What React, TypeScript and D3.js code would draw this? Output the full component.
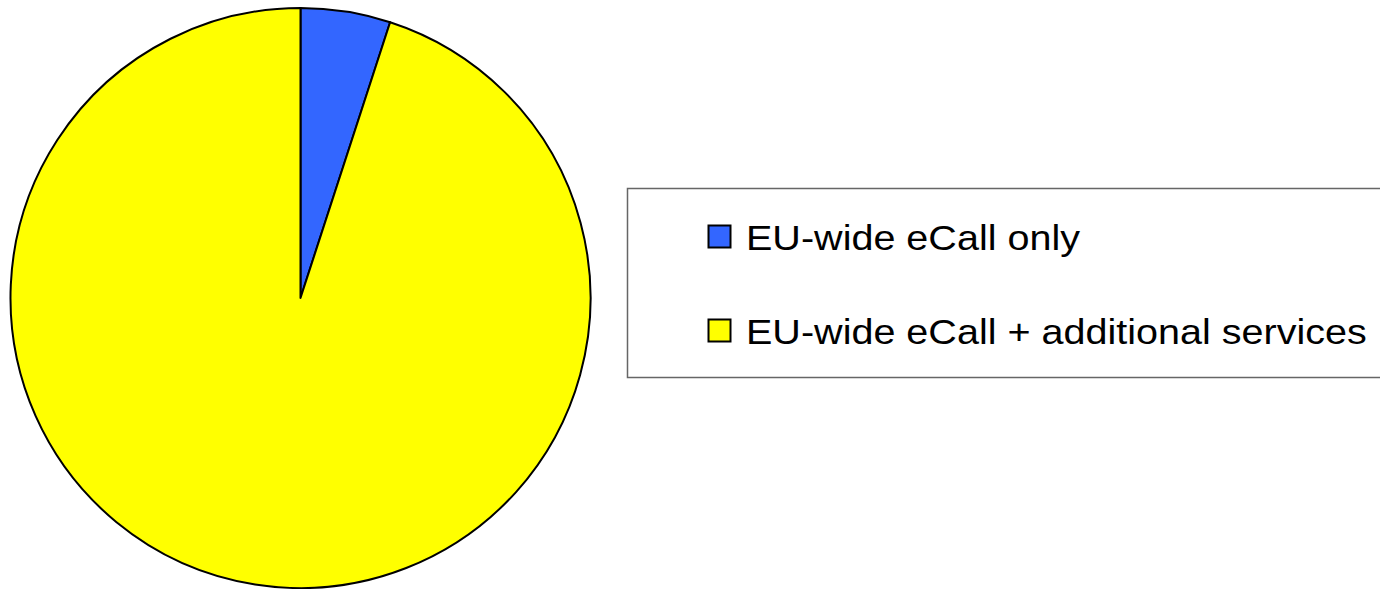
import React, { useEffect, useRef } from "react";
import * as d3 from "d3";

const categories = ["EU-wide eCall only", "EU-wide eCall + additional services"];
const values = [5, 95];
const colors = ["#3366FF", "#FFFF00"];

export default function App() {
  const ref = useRef<SVGSVGElement>(null);
  useEffect(() => {
    const svg = d3.select(ref.current);
    svg.selectAll("*").remove();
    const cx = 300.5, cy = 298, r = 290;
    const pie = d3.pie<number>().sort(null).value((d) => d);
    const arc = d3.arc<d3.PieArcDatum<number>>().innerRadius(0).outerRadius(r);
    const g = svg.append("g").attr("transform", `translate(${cx},${cy})`);
    g.selectAll("path")
      .data(pie(values))
      .join("path")
      .attr("d", arc as any)
      .attr("fill", (_, i) => colors[i])
      .attr("stroke", "#000")
      .attr("stroke-width", 2)
      .attr("stroke-linejoin", "round");

    const lg = svg.append("g");
    lg.append("rect")
      .attr("x", 627.5)
      .attr("y", 188.5)
      .attr("width", 800)
      .attr("height", 189)
      .attr("fill", "#fff")
      .attr("stroke", "#666")
      .attr("stroke-width", 1.5);
    const y = d3.scaleBand<string>().domain(categories).range([190, 378]).paddingInner(0).paddingOuter(0);
    categories.forEach((c, i) => {
      const yc = (y(c) as number) + y.bandwidth() / 2;
      lg.append("rect")
        .attr("x", 708.5)
        .attr("y", yc - 11.5)
        .attr("width", 22)
        .attr("height", 22)
        .attr("fill", colors[i])
        .attr("stroke", "#000")
        .attr("stroke-width", 2);
      lg.append("text")
        .attr("transform", `translate(746,${yc + 12.5}) scale(1.13,1)`)
        .attr("font-family", "Liberation Sans, Arial, sans-serif")
        .attr("font-size", 35)
        .attr("fill", "#000")
        .text(c);
    });
  }, []);
  return (
    <svg
      ref={ref}
      width={1380}
      height={589}
      style={{ position: "absolute", left: 0, top: 0, background: "#fff" }}
    />
  );
}
